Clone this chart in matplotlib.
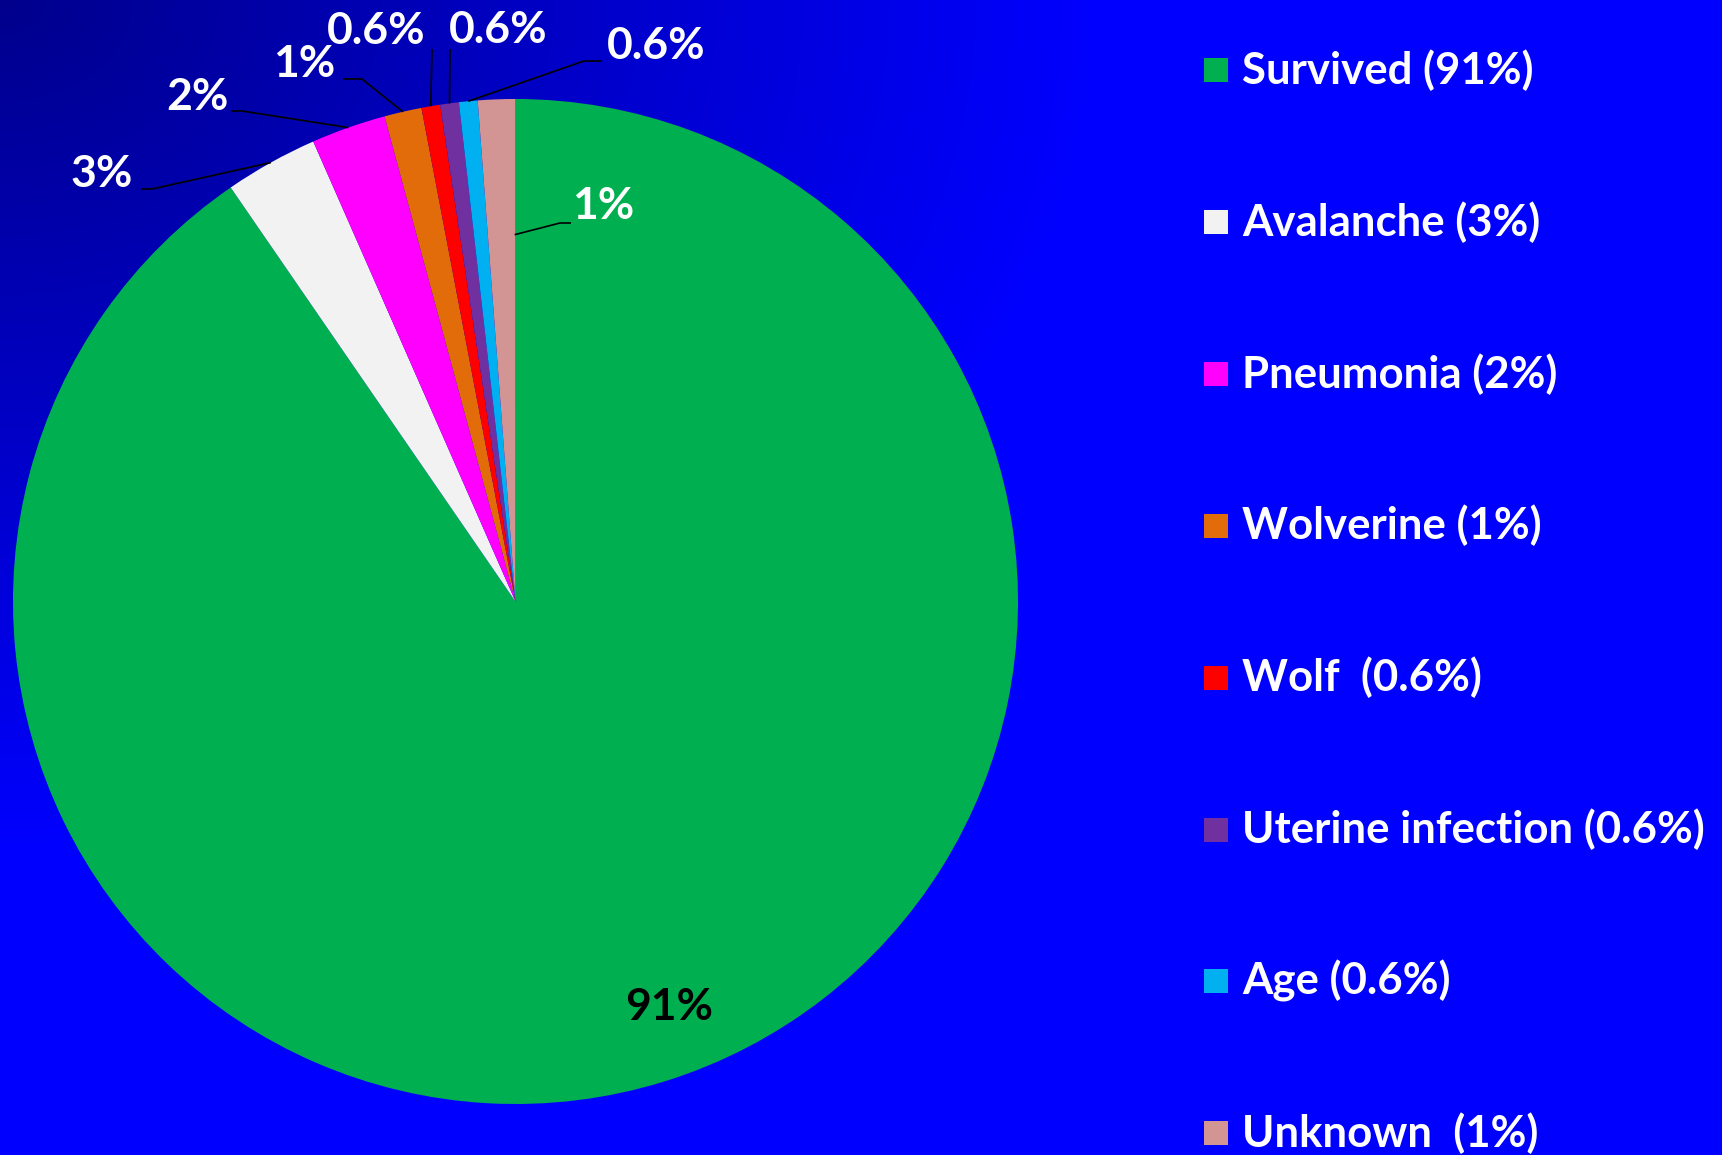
import matplotlib
matplotlib.use("Agg")
import matplotlib.pyplot as plt
from matplotlib.patches import Rectangle
import numpy as np

# data
categories = ["Survived", "Avalanche", "Pneumonia", "Wolverine", "Wolf",
              "Uterine infection", "Age", "Unknown"]
values = [90.5, 3.0, 2.4, 1.2, 0.6, 0.6, 0.6, 1.2]
pct_labels = ["91%", "3%", "2%", "1%", "0.6%", "0.6%", "0.6%", "1%"]
legend_labels = ["Survived (91%)", "Avalanche (3%)", "Pneumonia (2%)",
                 "Wolverine (1%)", "Wolf  (0.6%)", "Uterine infection (0.6%)",
                 "Age (0.6%)", "Unknown  (1%)"]
colors = ["#00B050", "#F2F2F2", "#FF00FF", "#E36C0A", "#FF0000",
          "#7030A0", "#00B0F0", "#D39494"]

W, H = 1722, 1155
CX, CY, R = 515.5, 601.5, 502.5   # pie centre / radius in pixels

plt.rcParams['font.family'] = ['Lato', 'DejaVu Sans']
plt.rcParams['font.weight'] = 'bold'

fig = plt.figure(figsize=(W / 100, H / 100), dpi=100)

# background gradient, dark navy in the top-left corner
bg = fig.add_axes([0, 0, 1, 1])
yy, xx = np.mgrid[0:H, 0:W]
d = np.clip(np.sqrt((xx / 1100.0) ** 2 + (yy / 850.0) ** 2), 0, 1)
img = np.zeros((H, W, 3))
img[..., 2] = 0.55 + 0.45 * d
bg.imshow(img, extent=[0, W, H, 0], aspect='auto')
bg.set_axis_off()

ax = fig.add_axes([(CX - R) / W, (H - CY - R) / H, 2 * R / W, 2 * R / H])
ax.patch.set_alpha(0)
ax.pie(values, colors=colors, startangle=90, counterclock=False, radius=1,
       wedgeprops=dict(linewidth=0))
ax.set_xlim(-1, 1)
ax.set_ylim(-1, 1)
ax.set_axis_off()


def px(x, y):
    return (x - CX) / R, (CY - y) / R


# label layout (pixels): text centre, stub end at label, knee
label_pos = [(669, 1007), (102, 174), (197, 97), (304, 64), (376, 31),
             (498, 30), (656, 46), (603, 206)]
stubs = [None, [(141, 189), (152, 189)], [(231, 111), (242, 111)],
         [(343, 79), (362, 79)], [(432, 49)], [(450, 49)],
         [(602, 61), (584, 61)], [(571, 223), (560, 223)]]
# where the leader meets the slice: fraction along the slice, radius
leader_end = [None, (0.5, 1.0), (0.5, 1.0), (0.5, 1.0), (0.5, 1.0),
              (0.5, 1.0), (0.5, 1.0), (0.97, 0.73)]

total = sum(values)
start = 90.0
for i, v in enumerate(values):
    span = 360.0 * v / total
    tx, ty = px(*label_pos[i])
    ax.text(tx, ty, pct_labels[i], ha='center', va='center', fontsize=32,
            fontweight='bold', color='black' if i == 0 else 'white')
    if stubs[i] is not None:
        f, r = leader_end[i]
        a = np.radians(start - f * span)
        pts = [px(*p) for p in stubs[i]] + [(r * np.cos(a), r * np.sin(a))]
        ax.plot([p[0] for p in pts], [p[1] for p in pts], color='black',
                lw=1.2, solid_capstyle='butt', clip_on=False)
    start -= span

# legend, drawn by hand to keep Excel's wide row spacing
y0, dy = 70, 151.9
for i, lab in enumerate(legend_labels):
    yc = y0 + i * dy
    fig.patches.append(Rectangle((1204 / W, 1 - (yc + 12) / H), 24 / W, 24 / H,
                                 transform=fig.transFigure, facecolor=colors[i],
                                 edgecolor='none'))
    fig.text(1242 / W, 1 - yc / H, lab, ha='left', va='center', fontsize=31.5,
             fontweight='bold', color='white')

fig.savefig("out.png", dpi=100)
